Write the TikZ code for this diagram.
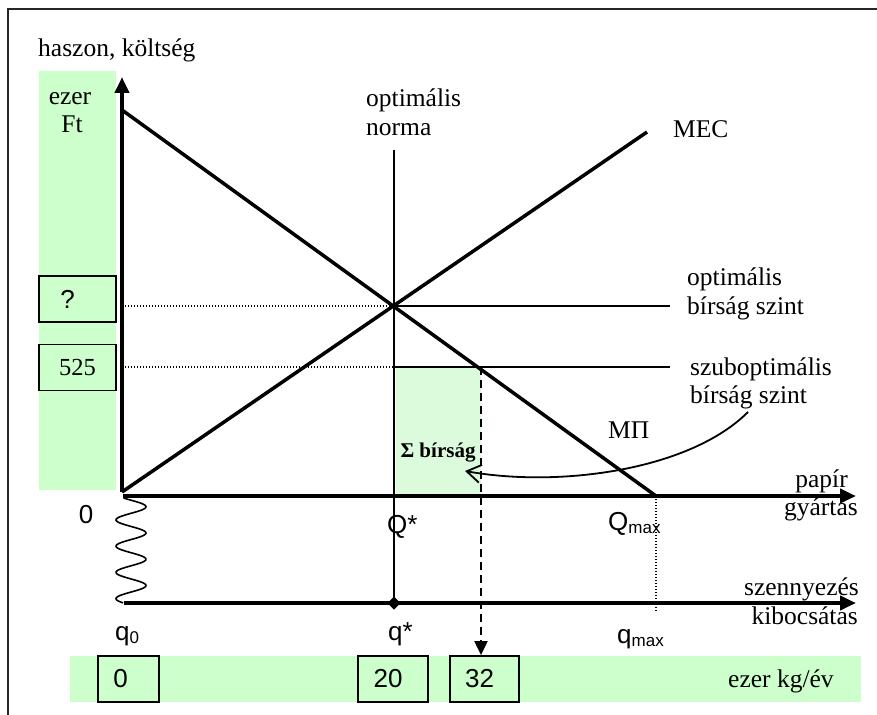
\documentclass[tikz,border=0pt]{standalone}
\usepackage{fontspec}
\setmainfont{Liberation Serif}
\newfontfamily\arialfont{Liberation Sans}
\usetikzlibrary{arrows.meta}
\definecolor{bandgreen}{HTML}{CCFFCC}
\definecolor{finegreen}{HTML}{DCFADC}

\newcommand{\subtxt}[1]{\raisebox{-3pt}{\fontsize{17}{19}\selectfont #1}}

\begin{document}
\begin{tikzpicture}[x=1pt,y=-1pt,
  serif/.style={font=\fontsize{25.5}{30}\selectfont, inner sep=0pt},
  sans/.style={font=\arialfont\fontsize{26}{30}\selectfont, inner sep=0pt},
  valbox/.style={draw, line width=1.8pt, fill=bandgreen, inner sep=0pt},
  curveline/.style={line width=3.5pt},
  axisline/.style={line width=4pt, -{Triangle[length=16pt,width=14pt]}},
  thinline/.style={line width=1.6pt},
  dotline/.style={line width=1.4pt, dash pattern=on 1.4pt off 1.6pt},
]
\useasboundingbox (0,0) rectangle (877,714);

% outer frame
\draw[line width=2.4pt, black!85] (8,720) -- (8,9) -- (880,9);

% green value column and value band
\fill[bandgreen] (39,71) rectangle (116,490);
\fill[bandgreen] (70,656) rectangle (861,702);

% total fine area
\fill[finegreen] (396,367) rectangle (481,495);

% key points
\coordinate (O) at (122,492);
\coordinate (Ytip) at (122,77);
\coordinate (Xstart) at (123,496);
\coordinate (Xtip) at (856,496);
\coordinate (Lstart) at (124,603);
\coordinate (Ltip) at (856,603);
\coordinate (Qmax) at (656,496);
\coordinate (MPtop) at (122,110);
\coordinate (MECtop) at (647,132);
\coordinate (E) at (394,306);
\coordinate (S) at (481,367);
\coordinate (qstar) at (394,603);
\coordinate (normtop) at (394,150);

% axes
\draw[axisline] (O) -- (Ytip);
\draw[axisline] (Xstart) -- (Xtip);
\draw[axisline] (Lstart) -- (Ltip);

% broken-axis wave between the two horizontal axes
\draw[line width=1.6pt, smooth, domain=0:1, samples=120]
  plot ({131+15*sin(1440*\x+330)}, {498+105*\x});

% marginal curves
\draw[curveline] (MPtop) -- (Qmax);
\draw[curveline] (O) -- (MECtop);

% optimal norm
\draw[thinline] (normtop) -- (qstar);
\fill (qstar) ++(0,-6.5) -- ++(6.5,6.5) -- ++(-6.5,6.5) -- ++(-6.5,-6.5) -- cycle;

% fine levels
\draw[dotline] (125,306) -- (E);
\draw[thinline] (E) -- (670,306);
\draw[dotline] (125,367) -- (396,367);
\draw[thinline] (396,367) -- (670,367);

% Qmax projection
\draw[dotline] (Qmax) -- (656,611);

% value boxes on the vertical axis
\node[valbox, minimum width=77pt, minimum height=46pt, font=\arialfont\fontsize{26}{30}\selectfont] (qmark) at (77.5,299) {\kern-20pt?};
\node[valbox, minimum width=77pt, minimum height=46pt, font=\fontsize{24.5}{28}\selectfont] (v525) at (77.5,367.5) {525};

% value boxes on the emission axis
\node[valbox, minimum width=61pt, minimum height=46pt, font=\arialfont\fontsize{26}{30}\selectfont] (b0) at (128.5,679) {\kern-16pt 0};
\node[valbox, minimum width=70pt, minimum height=46pt, font=\arialfont\fontsize{26}{30}\selectfont] (b20) at (393,679) {\kern-10pt 20};
\node[valbox, minimum width=69pt, minimum height=46pt, font=\arialfont\fontsize{26}{30}\selectfont] (b32) at (484.5,679) {\kern-10pt 32};

% projection of the suboptimal output to the emission value
\draw[line width=2pt, dash pattern=on 8pt off 5pt, -{Triangle[length=14pt,width=13pt]}] (S) -- (b32.north -| S);

% labels
\node[serif, anchor=base west] (title) at (38,57) {haszon, költség};
\node[serif, anchor=base] (ezer) at (70,105) {ezer};
\node[serif, anchor=base] (ft) at (72,133) {Ft};
\node[serif, anchor=base west] (norm1) at (366,107) {optimális};
\node[serif, anchor=base west] (norm2) at (366,136) {norma};
\node[serif, anchor=base west] (mec) at (673,138) {MEC};
\node[serif, anchor=base west] (opt1) at (687,285) {optimális};
\node[serif, anchor=base west] (opt2) at (687,314) {bírság szint};
\node[serif, anchor=base west] (sub1) at (690,375) {szuboptimális};
\node[serif, anchor=base west] (sub2) at (690,403) {bírság szint};
\node[serif, anchor=base west] (mp) at (608,438) {MΠ};
\node[serif, anchor=base east] (pap1) at (848,487) {papír};
\node[serif, anchor=base east] (pap2) at (858,515) {gyártás};
\node[serif, anchor=base east] (sz1) at (859,595) {szennyezés};
\node[serif, anchor=base east] (sz2) at (858,624) {kibocsátas};
\node[serif, anchor=base west] (unit) at (728,687) {ezer kg/év};
\node[font=\bfseries\fontsize{21}{25}\selectfont, inner sep=0pt] (sum) at (438,453) {Σ bírság};

\node[sans, anchor=base] (zero) at (86,523) {0};
\node[sans, anchor=base west] (Qs) at (387,533) {Q*};
\node[sans, anchor=base west] (Qm) at (608,530) {Q\subtxt{max}};
\node[sans, anchor=base west] (q0) at (115,640) {q\subtxt{0}};
\node[sans, anchor=base west] (qs) at (388,640) {q*};
\node[sans, anchor=base west] (qm) at (617,643) {q\subtxt{max}};

% pointer from the suboptimal fine level to the total fine
\draw[line width=1.8pt, -{Straight Barb[length=14pt,width=18pt]}]
  (748,412) .. controls (690,470) and (560,488) .. (465,471);

\end{tikzpicture}
\end{document}
